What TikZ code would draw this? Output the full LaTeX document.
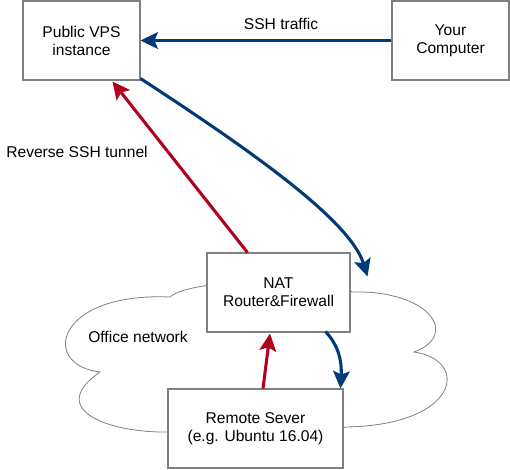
\documentclass[tikz,border=0pt]{standalone}
\usepackage{fontspec}
\setmainfont{Liberation Sans}
\usetikzlibrary{arrows.meta,calc}
\definecolor{tunred}{HTML}{B0001E}
\definecolor{sshblue}{HTML}{003A78}
\definecolor{boxgray}{HTML}{808080}
\begin{document}
\begin{tikzpicture}[x=0.75pt,y=-0.75pt,
  box/.style={draw=boxgray,line width=0.8pt,fill=white,inner sep=0pt,align=center,
    font=\fontsize{11.7}{13.5}\selectfont,minimum height=59.25pt},
  lbl/.style={inner sep=0pt,font=\fontsize{11.7}{13.5}\selectfont},
  redarr/.style={draw=tunred,line width=2.3pt,-{Stealth[length=13pt,width=12.5pt,inset=2.5pt]}},
  bluearr/.style={draw=sshblue,line width=2.3pt,-{Stealth[length=13pt,width=12.5pt,inset=2.5pt]}}]
\useasboundingbox (0,0) rectangle (510,469);
% cloud
\draw[boxgray,line width=0.6pt,fill=white]
  (170,297) .. controls (190,278) and (330,276) .. (352,292)
  .. controls (430,290) and (460,335) .. (414,352)
  .. controls (470,360) and (460,425) .. (346,427)
  .. controls (300,445) and (200,440) .. (168,432)
  .. controls (110,433) and (45,410) .. (100,372)
  .. controls (40,365) and (55,292) .. cycle;
\node[lbl] (office) at (138,337) {Office network};
% boxes
\node[box,minimum width=87.75pt] (vps) at (81.5,40.5) {Public VPS\\instance};
\node[box,minimum width=87.75pt] (yc) at (450.5,40.5) {Your\\Computer};
\node[box,minimum width=107.25pt] (nat) at (278.5,292.5) {NAT\\Router\&Firewall};
\node[box,minimum width=131.25pt] (rs) at (255.5,428.5) {Remote Sever\\(e.g. Ubuntu 16.04)};
% labels
\node[lbl] (ssh) at (281,24) {SSH traffic};
\node[lbl] (rev) at (77,152) {Reverse SSH tunnel};
% connectors
\draw[bluearr] (yc.west) -- (vps.east);
\draw[redarr] ($(nat.north west)+(41,0)$) -- ($(vps.south west)+(90,1)$);
\draw[bluearr] ($(vps.south east)+(0,-2)$) .. controls (250,150) and (350,220) .. ($(nat.north east)+(17,24)$);
\draw[redarr] ($(rs.north)+(7.5,0)$) -- ($(nat.south)+(-8.5,1)$);
\draw[bluearr] ($(nat.south east)+(-25,-1)$) .. controls (338,345) and (342,360) .. ($(rs.north east)+(-3,0)$);
\end{tikzpicture}
\end{document}
